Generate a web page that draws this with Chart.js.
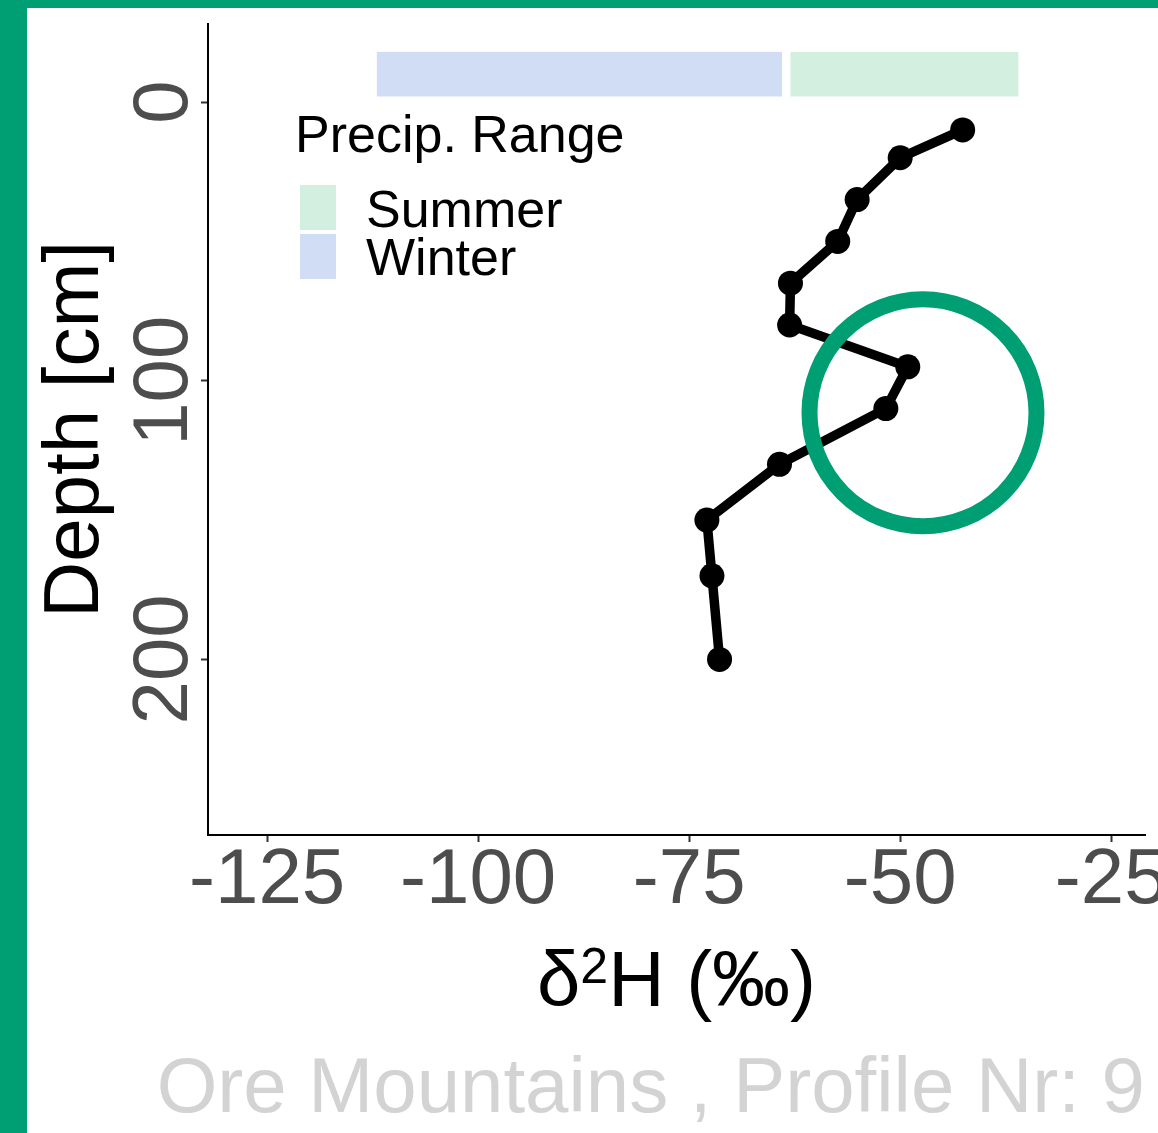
<!DOCTYPE html>
<html>
<head>
<meta charset="utf-8">
<script src="https://cdn.jsdelivr.net/npm/chart.js@4.4.0/dist/chart.umd.min.js"></script>
<style>
    html, body { margin: 0; padding: 0; background: #fff; }
    #marco {
        width: 1131px;
        height: 1125px;
        border-left: 27px solid #009E73;
        border-top: 8px solid #009E73;
    }
    canvas { display: block; }
</style>
</head>
<body>
<div id="marco"><canvas id="perfilChart" width="1131" height="1125"></canvas></div>
<script>
// Perfil isotópico - Ore Mountains, perfil 9

// profundidad (cm) y d2H (permil) de cada muestra
const depth = [10, 20, 35, 50, 65, 80, 95, 110, 130, 150, 170, 200];
const d2H = [-42.6, -50.0, -55.1, -57.4, -63.0, -63.1, -49.1, -51.7, -64.3, -72.9, -72.3, -71.4];

// marcador circular
const ringD2H = [-47.3];
const ringDepth = [111.5];

// rango de precipitación por estación
const bandSeason = ["Winter", "Summer"];
const bandFrom = [-112, -63];
const bandTo = [-64, -36];
const bandTop = [-18, -18];
const bandBottom = [-2, -2];

// ejes
const xTicks = [-125, -100, -75, -50, -25];
const yTicks = [0, 100, 200];

const FONT = "'Liberation Sans', Arial, sans-serif";
const seasonColor = {
    Summer: "rgb(211, 239, 224)",
    Winter: "rgb(208, 221, 245)",
};

Chart.defaults.font.family = FONT;

// bandas de precipitación (debajo de los datos)
const bandasPlugin = {
    id: "bandas",
    beforeDatasetsDraw(chart) {
        const { ctx, scales } = chart;
        ctx.save();
        bandSeason.forEach((s, i) => {
            const x0 = scales.x.getPixelForValue(bandFrom[i]);
            const x1 = scales.x.getPixelForValue(bandTo[i]);
            const y0 = scales.y.getPixelForValue(bandTop[i]);
            const y1 = scales.y.getPixelForValue(bandBottom[i]);
            ctx.fillStyle = seasonColor[s];
            ctx.fillRect(x0, y0, x1 - x0, y1 - y0);
        });
        ctx.restore();
    },
    afterDraw(chart) {
        const { ctx, chartArea, scales } = chart;
        ctx.save();

        // etiquetas del eje y, giradas
        ctx.fillStyle = "#4d4d4d";
        ctx.font = "78px " + FONT;
        ctx.textAlign = "center";
        ctx.textBaseline = "alphabetic";
        yTicks.forEach((v) => {
            ctx.save();
            ctx.translate(chartArea.left - 21, scales.y.getPixelForValue(v));
            ctx.rotate(-Math.PI / 2);
            ctx.fillText(String(v), 0, 0);
            ctx.restore();
        });

        // título eje x con superíndice
        ctx.textAlign = "left";
        ctx.fillStyle = "#000";
        const big = "78px " + FONT;
        const small = "50px " + FONT;
        ctx.font = big;
        const wD = ctx.measureText("δ").width;
        const wRest = ctx.measureText("H (‰)").width;
        ctx.font = small;
        const w2 = ctx.measureText("2").width;
        let tx = (chartArea.left + chartArea.right) / 2 - (wD + w2 + wRest) / 2;
        ctx.font = big;
        ctx.fillText("δ", tx, 998);
        tx += wD;
        ctx.font = small;
        ctx.fillText("2", tx, 975);
        tx += w2;
        ctx.font = big;
        ctx.fillText("H (‰)", tx, 998);

        // leyenda
        const lx = chartArea.left + 92;
        const ly = chartArea.top;
        ctx.font = "52px " + FONT;
        ctx.fillText("Precip. Range", lx - 5, ly + 128);
        ["Summer", "Winter"].forEach((s, i) => {
            ctx.fillStyle = seasonColor[s];
            ctx.fillRect(lx, ly + 161 + i * 49, 36, 45);
            ctx.fillStyle = "#000";
            ctx.fillText(s, lx + 66, ly + 203 + i * 48);
        });

        // pie de figura
        ctx.fillStyle = "#d3d3d3";
        ctx.font = "78px " + FONT;
        ctx.textAlign = "right";
        ctx.fillText("Ore Mountains , Profile Nr: 9", chartArea.right, 1104);
        ctx.restore();
    },
};

new Chart(document.getElementById("perfilChart"), {
    type: "scatter",
    data: {
        datasets: [
            {
                data: ringD2H.map((v, i) => ({ x: v, y: ringDepth[i] })),
                pointRadius: 113.5,
                pointHoverRadius: 113.5,
                pointBorderWidth: 16,
                pointBorderColor: "#009E73",
                pointBackgroundColor: "rgba(0,0,0,0)",
                order: 0,
            },
            {
                data: depth.map((v, i) => ({ x: d2H[i], y: v })),
                showLine: true,
                borderColor: "#000",
                borderWidth: 9.5,
                pointRadius: 12.5,
                pointBorderWidth: 0,
                pointBackgroundColor: "#000",
                tension: 0,
                order: 1,
            },
        ],
    },
    options: {
        responsive: false,
        devicePixelRatio: 1,
        animation: false,
        events: [],
        layout: {
            autoPadding: false,
            padding: { top: 16, right: 13, left: 0, bottom: 0 },
        },
        plugins: {
            legend: { display: false },
            tooltip: { enabled: false },
        },
        scales: {
            x: {
                type: "linear",
                min: -132,
                max: -21,
                afterBuildTicks: (s) => {
                    s.ticks = xTicks.map((v) => ({ value: v }));
                },
                afterFit: (s) => {
                    s.height = 298;
                    s.paddingLeft = 0;
                    s.paddingRight = 0;
                },
                border: { display: true, color: "#000", width: 2 },
                grid: {
                    drawOnChartArea: false,
                    drawTicks: true,
                    tickLength: 7,
                    tickColor: "#333",
                    tickWidth: 2,
                },
                ticks: {
                    color: "#4d4d4d",
                    font: { size: 78, lineHeight: 1 },
                    padding: 0,
                    maxRotation: 0,
                    autoSkip: false,
                    callback: (v) => String(v),
                },
                title: { display: false },
            },
            y: {
                type: "linear",
                reverse: true,
                min: -28,
                max: 263,
                afterBuildTicks: (s) => {
                    s.ticks = yTicks.map((v) => ({ value: v }));
                },
                afterFit: (s) => {
                    s.width = 181;
                    s.paddingTop = 0;
                    s.paddingBottom = 0;
                },
                border: { display: true, color: "#000", width: 2 },
                grid: {
                    drawOnChartArea: false,
                    drawTicks: true,
                    tickLength: 7,
                    tickColor: "#333",
                    tickWidth: 2,
                },
                ticks: { display: false },
                title: {
                    display: true,
                    text: "Depth [cm]",
                    color: "#000",
                    font: { size: 78, lineHeight: 1 },
                    padding: { top: 10, bottom: 0 },
                },
            },
        },
    },
    plugins: [bandasPlugin],
});
</script>
</body>
</html>
